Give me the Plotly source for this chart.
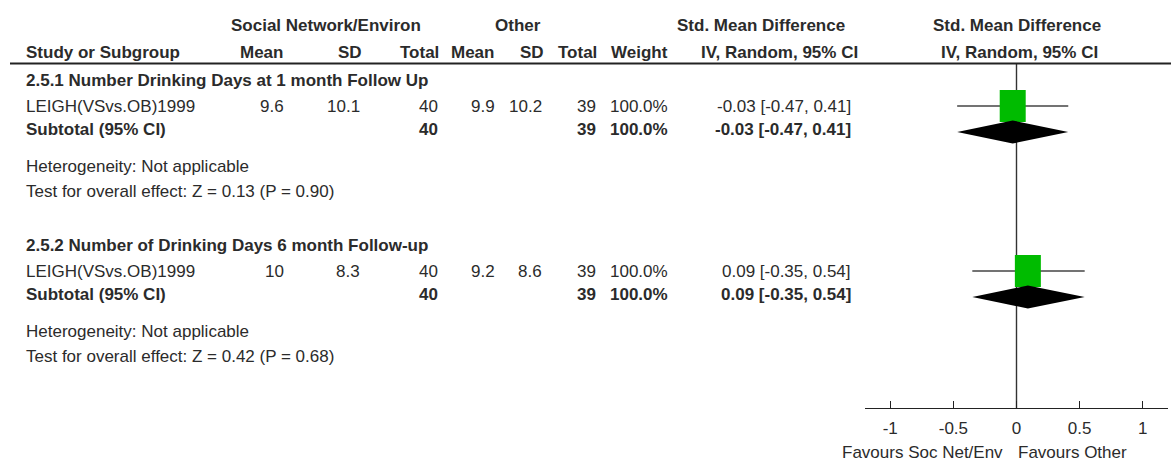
import plotly.graph_objects as go

# ---------------- data ----------------
group_titles = ["2.5.1 Number Drinking Days at 1 month Follow Up",
                "2.5.2 Number of Drinking Days 6 month Follow-up"]
study_names = ["LEIGH(VSvs.OB)1999", "LEIGH(VSvs.OB)1999"]
exp_mean = [9.6, 10]
exp_sd = [10.1, 8.3]
exp_total = [40, 40]
ctl_mean = [9.9, 9.2]
ctl_sd = [10.2, 8.6]
ctl_total = [39, 39]
weight = [100.0, 100.0]
smd = [-0.03, 0.09]
ci_low = [-0.47, -0.35]
ci_high = [0.41, 0.54]
heterogeneity = ["Not applicable", "Not applicable"]
z_value = [0.13, 0.42]
p_value = [0.90, 0.68]
tick_vals = [-1, -0.5, 0, 0.5, 1]
tick_text = ["-1", "-0.5", "0", "0.5", "1"]
favours_left = "Favours Soc Net/Env"
favours_right = "Favours Other"

# ---------------- layout constants (pixels) ----------------
W, H = 1171, 461
FONT = "Liberation Sans, Arial, Helvetica, sans-serif"
FS = 17
TXT = "#2b2b2b"
AXIS_Y = 408           # pixel row of the forest axis line
X_LEFT, X_RIGHT = 865, 1168
XR = (-1.2, 1.2)
PX_PER_UNIT = (X_RIGHT - X_LEFT) / (XR[1] - XR[0])
GROUP_OFFSET = 165
ROW = dict(title=80, study=106, subtotal=129, het=166, test=191)
WHISK_DY = 0
DIAM_DY = 3
SQ_HALF_W = 13 / PX_PER_UNIT
SQ_HALF_H = 16
DIAM_HALF_H = 11.5


def fmt(v):
    return f"{v:g}"


fig = go.Figure()
annotations = []


def txt(x, y, s, anchor="left", bold=False, yref="y", size=FS, color=TXT):
    if bold:
        s = f"<b>{s}</b>"
    annotations.append(dict(
        x=x / W, xref="paper", y=y if yref == "y" else (H - y) / H, yref=yref,
        text=s, showarrow=False, xanchor=anchor, yanchor="middle",
        font=dict(family=FONT, size=size, color=color), borderpad=0))


# header
txt(326, 25, "Social Network/Environ", "center", True)
txt(518, 25, "Other", "center", True)
txt(761, 25, "Std. Mean Difference", "center", True)
txt(1017, 25, "Std. Mean Difference", "center", True)
txt(25, 52, "Study or Subgroup", "left", True)
txt(284, 52, "Mean", "right", True)
txt(363, 52, "SD", "right", True)
txt(440, 52, "Total", "right", True)
txt(495, 52, "Mean", "right", True)
txt(545, 52, "SD", "right", True)
txt(598, 52, "Total", "right", True)
txt(669, 52, "Weight", "right", True)
txt(779, 52, "IV, Random, 95% CI", "center", True)
txt(1019, 52, "IV, Random, 95% CI", "center", True)

for g in range(len(group_titles)):
    off = g * GROUP_OFFSET
    ci_str = f"{smd[g]:.2f} [{ci_low[g]:.2f}, {ci_high[g]:.2f}]"
    txt(25, ROW["title"] + off, group_titles[g], "left", True)
    ys = ROW["study"] + off
    txt(25, ys, study_names[g])
    txt(285, ys, fmt(exp_mean[g]), "right")
    txt(361, ys, fmt(exp_sd[g]), "right")
    txt(439, ys, str(exp_total[g]), "right")
    txt(496, ys, fmt(ctl_mean[g]), "right")
    txt(543, ys, fmt(ctl_sd[g]), "right")
    txt(597, ys, str(ctl_total[g]), "right")
    txt(669, ys, f"{weight[g]:.1f}%", "right")
    txt(852, ys, ci_str, "right")
    yt = ROW["subtotal"] + off
    txt(25, yt, "Subtotal (95% CI)", "left", True)
    txt(439, yt, str(exp_total[g]), "right", True)
    txt(597, yt, str(ctl_total[g]), "right", True)
    txt(669, yt, f"{weight[g]:.1f}%", "right", True)
    txt(852, yt, ci_str, "right", True)
    txt(25, ROW["het"] + off, f"Heterogeneity: {heterogeneity[g]}")
    txt(25, ROW["test"] + off,
        f"Test for overall effect: Z = {z_value[g]:.2f} (P = {p_value[g]:.2f})")

    # whisker
    yw = ys + WHISK_DY
    fig.add_trace(go.Scatter(x=[ci_low[g], ci_high[g]], y=[yw, yw], mode="lines",
                             line=dict(color="#444444", width=1.4),
                             hoverinfo="skip"))
    # square
    fig.add_trace(go.Scatter(
        x=[smd[g] - SQ_HALF_W, smd[g] + SQ_HALF_W, smd[g] + SQ_HALF_W,
           smd[g] - SQ_HALF_W, smd[g] - SQ_HALF_W],
        y=[yw - SQ_HALF_H, yw - SQ_HALF_H, yw + SQ_HALF_H, yw + SQ_HALF_H,
           yw - SQ_HALF_H],
        mode="lines", fill="toself", fillcolor="#00BB00",
        line=dict(width=0, color="#00BB00"), hoverinfo="skip"))
    # diamond
    yd = yt + DIAM_DY
    fig.add_trace(go.Scatter(
        x=[ci_low[g], smd[g], ci_high[g], smd[g], ci_low[g]],
        y=[yd, yd - DIAM_HALF_H, yd, yd + DIAM_HALF_H, yd],
        mode="lines", fill="toself", fillcolor="#000000",
        line=dict(width=0, color="#000000"), hoverinfo="skip"))

# favours labels
txt(1004, 452, favours_left, "right", yref="paper")
txt(1017, 452, favours_right, "left", yref="paper")

shapes = [
    # header rule
    dict(type="line", xref="paper", yref="y", x0=10 / W, x1=1, y0=63.5, y1=63.5,
         line=dict(color="#222222", width=2)),
    # line of no effect
    dict(type="line", xref="x", yref="y", x0=0, x1=0, y0=63.5, y1=AXIS_Y,
         line=dict(color="#333333", width=1.4), layer="below"),
]

fig.update_layout(
    width=W, height=H, margin=dict(l=0, r=0, t=0, b=0, pad=0),
    paper_bgcolor="white", plot_bgcolor="white", showlegend=False,
    annotations=annotations, shapes=shapes,
    xaxis=dict(domain=[X_LEFT / W, X_RIGHT / W], range=list(XR),
               tickvals=tick_vals, ticktext=tick_text, ticks="inside",
               ticklen=7, tickwidth=1.3, tickcolor="#222222",
               showline=True, linecolor="#222222", linewidth=1.4,
               showgrid=False, zeroline=False, fixedrange=True,
               tickfont=dict(family=FONT, size=FS, color=TXT),
               ticklabelstandoff=4),
    yaxis=dict(domain=[(H - AXIS_Y) / H, 1], range=[AXIS_Y, 0], visible=False,
               fixedrange=True),
)

fig.write_html("out.html",
               config={"displayModeBar": False, "staticPlot": True},
               post_script="document.body.style.margin='0px';"
                           "document.documentElement.style.overflow='hidden';")
